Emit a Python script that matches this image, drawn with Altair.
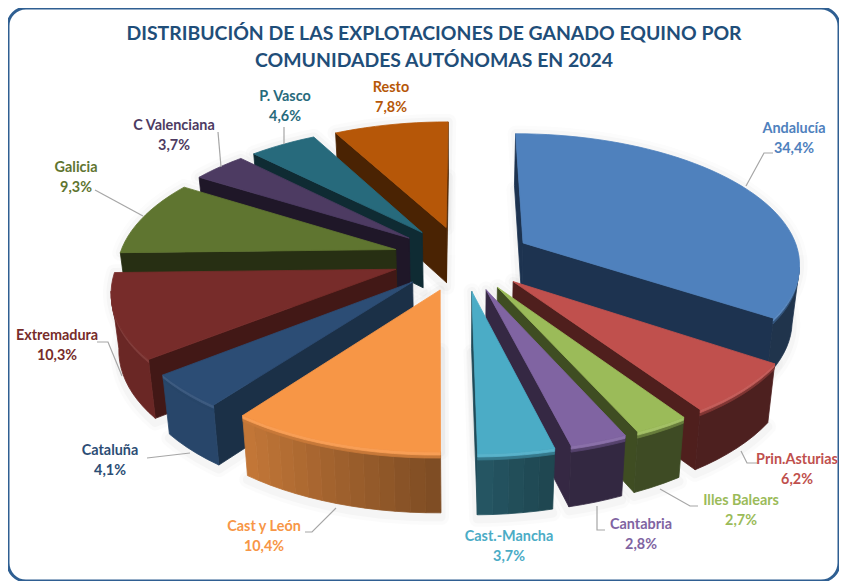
import math
import altair as alt

# ---- chart values ----
names = ["Andalucía", "Prin.Asturias", "Illes Balears", "Cantabria", "Cast.-Mancha", "Cast y León",
         "Cataluña", "Extremadura", "Galicia", "C Valenciana", "P. Vasco", "Resto"]
shares = [34.4, 6.2, 2.7, 2.8, 3.7, 10.4, 4.1, 10.3, 9.3, 3.7, 4.6, 7.8]
title_lines = ["DISTRIBUCIÓN DE LAS EXPLOTACIONES DE GANADO EQUINO POR",
               "COMUNIDADES AUTÓNOMAS EN 2024"]

# ---- styles ----
top_colors = ["#4f81bd", "#c0504d", "#9bbb59", "#8064a2", "#4bacc6", "#f79646",
              "#2c4d75", "#772c2a", "#5f7530", "#4d3b62", "#276a7c", "#b65708"]
wall_colors = ["#1d3350", "#4f1f1d", "#3f4d22", "#352843", "#1f4a58", "#1b3047",
               "#1b3047", "#421816", "#272f13", "#1f1728", "#0f2b33", "#4a2303"]
text_colors = ["#4f81bd", "#c0504d", "#9bbb59", "#8064a2", "#4bacc6", "#f79646",
               "#2c4d75", "#772c2a", "#5f7530", "#4d3b62", "#276a7c", "#b65708"]

# ---- layout (page pixels; the svg starts 8px in) ----
M = 8
W, H = 831, 573
label_pos = [(794, 129), (797, 460), (741, 501), (641, 525), (509, 537), (264, 527),
             (110, 451), (57, 336), (76, 168), (174, 126), (285, 97), (391, 88)]
row_gap = 20
leaders = [
    [(773, 153), (764, 153), (746, 186)],
    [(741, 451), (747, 463), (757, 463)],
    [(660, 489), (690, 506), (698, 506)],
    [(597, 506), (597, 530), (605, 530)],
    None,
    [(336, 508), (312, 532), (305, 532)],
    [(190, 453), (147, 458)],
    [(97, 342), (108, 342), (122, 376)],
    [(95, 190), (143, 216)],
    [(218, 132), (221, 167)],
    [(284, 127), (284, 144)],
    None,
]

# ---- perspective pie model: every wedge is derived from its share ----
CX, CY = 462.5 - M, 258.0 - M
AX, BY, K = 277.0, 128.8, 0.1427
EXPLODE = 0.252
DEPTH = 56.0
FOOT = 0.978


def hex2rgb(c):
    return [int(c[i:i + 2], 16) for i in (1, 3, 5)]


def mix(c1, c2, t):
    a, b = hex2rgb(c1), hex2rgb(c2)
    return "#%02x%02x%02x" % tuple(round(a[i] + (b[i] - a[i]) * t) for i in range(3))


def scale_col(c, f):
    return "#%02x%02x%02x" % tuple(min(255, round(v * f)) for v in hex2rgb(c))


def outer_shade(theta):
    if theta < 166:
        return 0.40
    if theta < 217:
        return 0.40 + 0.40 * (theta - 166) / 51
    return 0.80


def feature(ring, fill):
    coords = [[round(x, 2), round(y, 2)] for x, y in ring]
    coords.append(coords[0])
    return {"type": "Feature",
            "geometry": {"type": "Polygon", "coordinates": [coords]},
            "properties": {"fill": fill}}


def wedge(start, end):
    mid = math.radians((start + end) / 2)
    ox, oy = EXPLODE * math.sin(mid), -EXPLODE * math.cos(mid)

    def top(X, Y):
        w = 1 - K * Y
        return CX + AX * X / w, CY + BY * Y / w

    def low(X, Y, frac=1.0):
        x, y = top(X, Y)
        d = DEPTH * (1 + 0.07 * Y)
        f = 1 - (1 - FOOT) * frac
        return CX + (x - CX) * f, y + d * frac

    def rim(deg):
        t = math.radians(deg)
        return ox + math.sin(t), oy - math.cos(t)

    n = max(3, int((end - start) / 2.5))
    degs = [start + (end - start) * i / n for i in range(n + 1)]
    return (ox, oy), degs, rim, top, low


def band(points, upper, lower, fill):
    """One polygon running along a list of rim points, between two depth functions."""
    return feature([upper(*p) for p in points] + [lower(*p) for p in reversed(points)], fill)


starts, acc = [], 0.0
for s in shares:
    starts.append(acc)
    acc += s
total = acc
spans = [(st / total * 360, (st + s) / total * 360) for st, s in zip(starts, shares)]
order = sorted(range(len(names)), key=lambda i: -math.cos(math.radians(sum(spans[i]) / 2)))

shapes, shadows = [], []
for i in order:
    start, end = spans[i]
    tipm, degs, rim, top, low = wedge(start, end)
    col, wall = top_colors[i], wall_colors[i]
    rim_pts = [rim(d) for d in degs]
    top_ring = [top(*tipm)] + [top(*p) for p in rim_pts]
    low_ring = [low(*tipm)] + [low(*p) for p in rim_pts]
    shadows.append(feature([(x, y + 4) for x, y in low_ring], "#000000"))
    shadows.append(feature(top_ring, "#000000"))

    # radial side faces
    for a, b in ((tipm, rim_pts[0]), (rim_pts[-1], tipm)):
        if top(*b)[0] < top(*a)[0]:
            shapes.append(feature([top(*a), top(*b), low(*b), low(*a)], wall))

    # outer curved face: runs of equal colour become one polygon, then a bevel along the rim
    runs, visible = [], []
    for j in range(len(degs) - 1):
        a, b = rim_pts[j], rim_pts[j + 1]
        if top(*b)[0] >= top(*a)[0]:
            continue
        th = (degs[j] + degs[j + 1]) / 2
        base = scale_col(col, outer_shade(th))
        if i in (6, 7, 8):
            base = mix(col, wall, 0.25)
        if runs and runs[-1][0] == base and runs[-1][1][-1] == a:
            runs[-1][1].append(b)
        else:
            runs.append((base, [a, b]))
        if not visible or visible[-1][-1] != a:
            visible.append([a, b])
        else:
            visible[-1].append(b)
    for base, pts in runs:
        shapes.append(band(pts, top, low, base))
    f1, f2 = 0.05, 0.10
    for pts in visible:
        shade = scale_col(col, outer_shade(degs[len(degs) // 2]))
        shapes.append(band(pts, lambda X, Y: low(X, Y, f1), lambda X, Y: low(X, Y, f2), mix(col, shade, 0.55)))
        shapes.append(band(pts, top, lambda X, Y: low(X, Y, f1), mix(col, "#ffffff", 0.08)))
    shapes.append(feature(top_ring, col))

pct_labels = [f"{v:.1f}%".replace(".", ",") for v in shares]

text_rows = []
for nm, pct, (x, y), c in zip(names, pct_labels, label_pos, text_colors):
    text_rows.append({"t": nm, "x": x - M, "y": y - M, "c": c})
    text_rows.append({"t": pct, "x": x - M, "y": y + row_gap - M, "c": c})

leader_rows = []
for nm, path in zip(names, leaders):
    if path:
        for k, (x, y) in enumerate(path):
            leader_rows.append({"n": nm, "k": k, "x": x - M, "y": y - M})

title_rows = [{"t": title_lines[0], "x": 434 - M, "y": 34 - M},
              {"t": title_lines[1], "x": 434 - M, "y": 61 - M}]

proj = dict(type="identity", scale=1, translate=[0, 0])


def shadow_layer(width, op):
    return (alt.Chart(alt.Data(values=shadows))
            .mark_geoshape(fill="#000000", stroke="#000000", strokeWidth=width, opacity=op,
                           strokeJoin="round")
            .project(**proj))


wedges = (alt.Chart(alt.Data(values=shapes))
          .mark_geoshape(strokeWidth=0.8, opacity=1, strokeJoin="round")
          .encode(fill=alt.Fill("properties.fill:N", scale=None),
                  stroke=alt.Stroke("properties.fill:N", scale=None))
          .project(**proj))

lines = (alt.Chart(alt.Data(values=leader_rows))
         .mark_line(color="#a6a6a6", strokeWidth=1.2)
         .encode(x=alt.X("x:Q", scale=None, axis=None),
                 y=alt.Y("y:Q", scale=None, axis=None),
                 detail="n:N", order="k:Q"))

labels = (alt.Chart(alt.Data(values=text_rows))
          .mark_text(font="Lato", fontWeight="bold", fontSize=14.4, align="center", baseline="middle")
          .encode(x=alt.X("x:Q", scale=None, axis=None),
                  y=alt.Y("y:Q", scale=None, axis=None),
                  text="t:N",
                  color=alt.Color("c:N", scale=None)))

heading = (alt.Chart(alt.Data(values=title_rows))
           .mark_text(font="Lato", fontWeight="bold", fontSize=19.4, align="center", baseline="middle",
                      color="#1f4e79")
           .encode(x=alt.X("x:Q", scale=None, axis=None),
                   y=alt.Y("y:Q", scale=None, axis=None),
                   text="t:N"))

chart = (alt.layer(shadow_layer(16, 0.012), shadow_layer(9, 0.018), wedges, lines, labels, heading)
         .properties(width=W, height=H, padding=0,
                     autosize=alt.AutoSizeParams(type="none"), background="white")
         .configure_view(stroke="#2f5f92", strokeWidth=3, cornerRadius=18, fill="white"))

chart.save("out.html", embed_options={"renderer": "svg", "actions": False})
